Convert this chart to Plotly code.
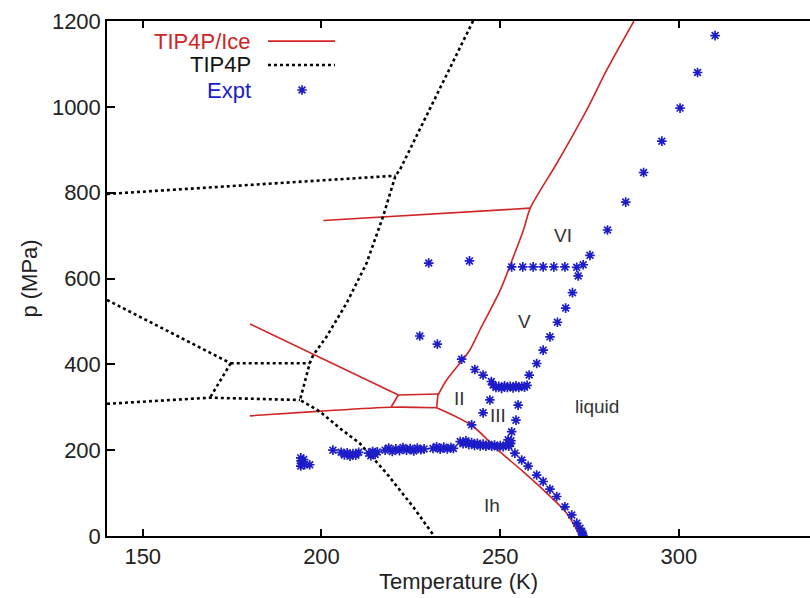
import plotly.graph_objects as go

# ---------------- DATA ----------------
# TIP4P/Ice coexistence lines (T in K, p in MPa)
ice_IhII_T = [180.0, 200.0, 219.5, 232.2]
ice_IhII_p = [280, 291, 300, 299]
ice_IIV_T = [180.0, 221.5]
ice_IIV_p = [494, 328.5]
ice_IIIleft_T = [221.5, 219.5]
ice_IIIleft_p = [328.5, 300.6]
ice_IIItop_T = [221.5, 232.6]
ice_IIItop_p = [328.5, 331]
ice_IIIright_T = [232.6, 232.2]
ice_IIIright_p = [331, 299]
ice_meltHP_T = [232.6, 235.0, 238.7, 241.5, 244.3, 250.0, 253.7, 256.5, 258.4, 265.8, 274.2, 279.8, 287.4]
ice_meltHP_p = [328.5, 363.5, 402.4, 433.4, 480, 573, 651, 713, 764, 868, 993, 1086, 1200]
ice_VVI_T = [200.5, 258.4]
ice_VVI_p = [735, 764]
ice_meltIh_T = [232.2, 242.0, 249.0, 256.4, 263.0, 268.6, 272.4]
ice_meltIh_p = [299, 258, 203, 150, 100, 53, 0]

# TIP4P coexistence lines
t4_a_T = [140.0, 220.7]
t4_a_p = [797, 839.5]
t4_b_T = [242.4, 221.9, 220.7, 217.2, 212.6, 207.0, 201.4, 197.7, 196.7, 194.0,
          199.6, 205.0, 210.7, 218.2, 225.6, 231.5]
t4_b_p = [1200, 852.8, 839.5, 744, 635.4, 542.2, 464.4, 421.7, 402.4, 316.9,
          289.6, 252, 216, 146, 68.3, 0]
t4_c_T = [140.0, 174.6]
t4_c_p = [550, 402.4]
t4_d_T = [174.6, 196.7]
t4_d_p = [402.4, 402.4]
t4_e_T = [174.6, 168.8]
t4_e_p = [402.4, 322.3]
t4_f_T = [140.0, 168.8, 194.0]
t4_f_p = [308, 322.3, 316.9]

# Experimental points
expt_T = [
    310.1, 305.2, 300.3, 295.2, 290.1, 285.1, 280.0, 275.1, 273.2, 271.8, 270.2, 268.3, 266.0, 263.9, 262.0, 260.2, 258.1,
    253.2, 256.3, 259.2, 262.0, 265.0, 268.1, 271.4,
    230.0, 241.4, 227.5, 232.4,
    239.2, 242.9, 245.2, 247.5,
    248.0, 248.8, 249.6, 250.4, 251.2, 252.0, 252.8, 253.6, 254.4, 255.2, 256.0, 256.8, 257.5,
    247.1, 245.2, 242.0,
    255.0, 254.4, 253.2, 252.2,
    238.8, 239.6, 240.4, 241.2, 242.0, 242.8, 243.6, 244.4, 245.2, 246.0, 246.8, 247.6, 248.4, 249.2, 250.0, 250.8, 251.6, 252.4, 252.9, 253.0,
    231.2, 232.2, 233.2, 234.2, 235.2, 236.2, 236.9,
    217.8, 218.8, 219.8, 220.8, 221.8, 222.8, 223.8, 224.8, 225.8, 226.8, 227.8, 228.7,
    213.2, 213.8, 214.3, 215.0, 215.6,
    203.2, 205.5, 206.4, 207.2, 208.0, 208.8, 209.6, 210.4,
    194.2, 194.3, 194.4, 194.2, 195.0, 195.3, 196.7,
    254.1, 256.0, 257.8, 260.2, 262.0, 263.9, 265.8, 268.1, 270.0, 271.4, 272.3, 272.8, 273.0, 273.15,
]
expt_p = [
    1166, 1080, 997, 920, 847, 778, 713, 654, 632, 606, 567, 531, 498, 464, 433, 402, 375,
    627, 627, 627, 627, 627, 627, 626,
    636, 641, 466, 447,
    412, 388, 375, 360,
    352, 346, 349, 344, 350, 346, 349, 345, 350, 346, 349, 347, 351,
    317, 287, 259,
    305, 270, 243, 224,
    220, 215, 222, 213, 218, 211, 216, 210, 214, 209, 213, 209, 212, 208, 211, 208, 212, 209, 216, 222,
    204, 208, 202, 207, 203, 206, 204,
    200, 205, 197, 203, 199, 206, 200, 204, 198, 205, 201, 203,
    193, 187, 197, 190, 196,
    200, 195, 189, 194, 186, 192, 188, 195,
    182, 175, 169, 163, 178, 166, 166,
    193, 177, 163, 142, 127, 109, 92, 68, 49, 30, 18, 10, 5, 1,
]

# Phase labels
label_text = ["VI", "V", "II", "III", "liquid", "Ih"]
label_T = [267.6, 256.9, 238.7, 249.4, 277.0, 247.6]
label_p = [701, 499, 320, 280, 301, 70]

# Legend entries
legend_names = ["TIP4P/Ice", "TIP4P", "Expt"]

# ---------------- STYLE ----------------
RED = "#d02525"
BLUE = "#1c1cc8"
FONT = "Liberation Sans, Arial, sans-serif"


def join(*segs):
    xs, ys = [], []
    for sx, sy in segs:
        xs += list(sx) + [None]
        ys += list(sy) + [None]
    return xs, ys


fig = go.Figure()

ix, iy = join((ice_IhII_T, ice_IhII_p), (ice_IIV_T, ice_IIV_p), (ice_IIIleft_T, ice_IIIleft_p),
              (ice_IIItop_T, ice_IIItop_p), (ice_IIIright_T, ice_IIIright_p),
              (ice_meltHP_T, ice_meltHP_p), (ice_VVI_T, ice_VVI_p), (ice_meltIh_T, ice_meltIh_p))
fig.add_trace(go.Scatter(x=ix, y=iy, mode="lines",
                         line=dict(color=RED, width=1.6, shape="spline", smoothing=0.8),
                         name=legend_names[0], showlegend=False, hoverinfo="skip"))

tx, ty = join((t4_a_T, t4_a_p), (t4_b_T, t4_b_p), (t4_c_T, t4_c_p), (t4_d_T, t4_d_p),
              (t4_e_T, t4_e_p), (t4_f_T, t4_f_p))
fig.add_trace(go.Scatter(x=tx, y=ty, mode="lines", line=dict(color="black", width=2.6, dash="3px,3px"),
                         name=legend_names[1], showlegend=False, hoverinfo="skip"))

fig.add_trace(go.Scatter(x=expt_T, y=expt_p, mode="markers",
                         marker=dict(symbol="asterisk-open", size=8, color=BLUE, line=dict(width=1.7)),
                         name=legend_names[2], showlegend=False))

# legend sample marker on an overlay axis in paper-like units
fig.add_trace(go.Scatter(x=[0.2774], y=[0.866], xaxis="x2", yaxis="y2", mode="markers",
                         marker=dict(symbol="asterisk-open", size=8, color=BLUE, line=dict(width=1.7)),
                         showlegend=False, hoverinfo="skip"))

for t, x, y in zip(label_text, label_T, label_p):
    fig.add_annotation(x=x, y=y, text=t, showarrow=False, font=dict(family=FONT, size=19, color="#333"))

# manual legend
leg_y = [0.961, 0.9146, 0.866]
leg_col = [RED, "#111", BLUE]
for name, yy, c in zip(legend_names, leg_y, leg_col):
    fig.add_annotation(xref="paper", yref="paper", x=0.2077, y=yy, text=name, showarrow=False,
                       xanchor="right", yanchor="middle", font=dict(family=FONT, size=22, color=c))
fig.add_shape(type="line", xref="paper", yref="paper", x0=0.229, x1=0.3243, y0=0.961, y1=0.961,
              line=dict(color=RED, width=1.6))
fig.add_shape(type="line", xref="paper", yref="paper", x0=0.229, x1=0.3243, y0=0.9146, y1=0.9146,
              line=dict(color="black", width=2.6, dash="3px,3px"))

axis_common = dict(showgrid=False, zeroline=False, ticks="inside", tickcolor="black", tickwidth=1.5,
                   showline=True, linecolor="black", linewidth=1.5,
                   tickfont=dict(family=FONT, size=22, color="#222"))

fig.update_layout(
    width=810, height=598,
    margin=dict(l=107, r=0, t=21, b=62),
    paper_bgcolor="white", plot_bgcolor="white",
    showlegend=False,
    xaxis=dict(range=[140, 336.65], tickvals=[150, 200, 250, 300], ticklen=7, mirror="ticks",
               title=dict(text="Temperature (K)", font=dict(family=FONT, size=22, color="#222"), standoff=4),
               **axis_common),
    yaxis=dict(range=[0, 1200], tickvals=[0, 200, 400, 600, 800, 1000, 1200], ticklen=8, mirror=False,
               title=dict(text="p (MPa)", font=dict(family=FONT, size=22, color="#222"), standoff=8),
               **axis_common),
    xaxis2=dict(range=[0, 1], overlaying="x", visible=False),
    yaxis2=dict(range=[0, 1], overlaying="y", visible=False),
)

fig.write_html("out.html")
